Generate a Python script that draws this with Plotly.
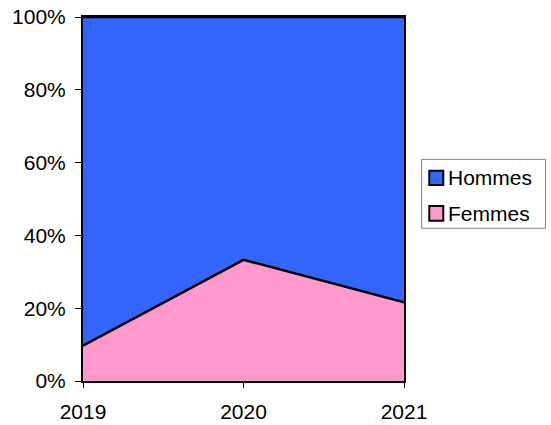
import plotly.graph_objects as go

years = [2019, 2020, 2021]
femmes = [9.7, 33.3, 21.6]
hommes = [90.3, 66.7, 78.4]
y_ticks = [0, 20, 40, 60, 80, 100]
y_tick_labels = ["0%", "20%", "40%", "60%", "80%", "100%"]
series_names = ["Hommes", "Femmes"]
series_colors = ["#3366FF", "#FF99CC"]

fig = go.Figure()
fig.add_trace(go.Scatter(
    x=years, y=femmes, name="Femmes", mode="lines",
    stackgroup="one", fillcolor="#FF99CC",
    line=dict(color="black", width=2.5), showlegend=False,
))
fig.add_trace(go.Scatter(
    x=years, y=hommes, name="Hommes", mode="lines",
    stackgroup="one", fillcolor="#3366FF",
    line=dict(color="black", width=2.5), showlegend=False,
))

# hand-made legend (plotly's own keys are too wide)
fig.add_shape(type="rect", xref="paper", yref="paper",
              x0=1.055, x1=1.441, y0=0.4195, y1=0.609,
              line=dict(color="#808080", width=1), fillcolor="white")
key_y = [(0.5385, 0.5777), (0.4404, 0.4808)]
for name, col, (y0, y1) in zip(series_names, series_colors, key_y):
    fig.add_shape(type="rect", xref="paper", yref="paper",
                  x0=1.0788, x1=1.1224, y0=y0, y1=y1,
                  line=dict(color="black", width=2), fillcolor=col)
    fig.add_annotation(text=name, xref="paper", yref="paper",
                       x=1.13, y=(y0 + y1) / 2, xanchor="left", yanchor="middle",
                       showarrow=False, font=dict(size=21))

fig.update_layout(
    width=551, height=425,
    margin=dict(l=83, r=147, t=17, b=44, autoexpand=False),
    paper_bgcolor="white", plot_bgcolor="white",
    font=dict(family="Liberation Sans, Arial, sans-serif", size=21, color="black"),
    showlegend=False,
)
fig.update_xaxes(
    range=[2019, 2021], tickvals=years, ticktext=[str(y) for y in years],
    showgrid=False, zeroline=False,
    showline=True, linecolor="black", linewidth=2, mirror=True,
    ticks="outside", ticklen=5, tickcolor="black",
    ticklabelstandoff=6, ticklabeloverflow="allow",
)
fig.update_yaxes(
    range=[0, 100], tickvals=y_ticks, ticktext=y_tick_labels,
    showgrid=False, zeroline=False,
    showline=True, linecolor="black", linewidth=2, mirror=True,
    ticks="outside", ticklen=6, tickcolor="black",
    ticklabelstandoff=5, ticklabeloverflow="allow",
)

# drop the default 8px body margin so the figure sits at the window corner
fig.write_html("out.html", config={"displayModeBar": False},
               post_script="document.body.style.margin='0';")
